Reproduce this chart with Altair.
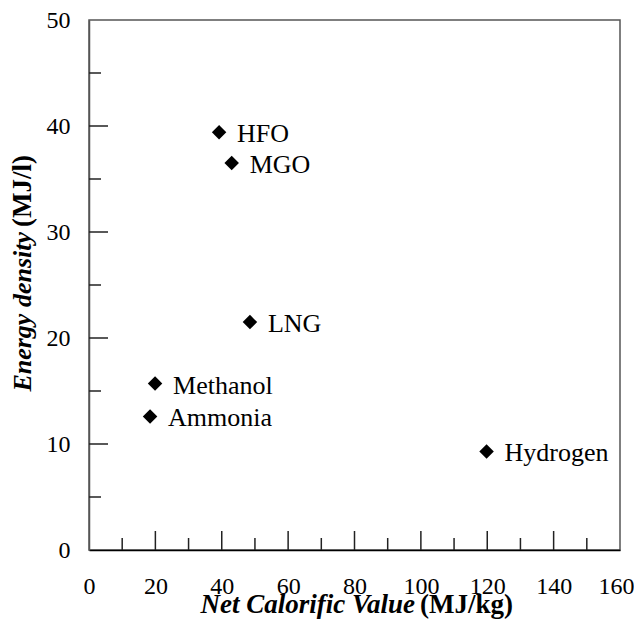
import altair as alt
import pandas as pd

# ---- data ----
fuels = ["HFO", "MGO", "LNG", "Methanol", "Ammonia", "Hydrogen"]
ncv = [39.2, 43.0, 48.5, 19.9, 18.4, 119.8]          # Net Calorific Value (MJ/kg)
energy_density = [39.4, 36.5, 21.5, 15.7, 12.6, 9.3]  # Energy density (MJ/l)

x_labels = [0, 20, 40, 60, 80, 100, 120, 140, 160]
y_labels = [0, 10, 20, 30, 40, 50]
x_major = [20, 40, 60, 80, 100, 120, 140]
x_minor = [10, 30, 50, 70, 90, 110, 130, 150]
y_major = [10, 20, 30, 40]
y_minor = [5, 15, 25, 35, 45]

W, H = 531, 530
FONT = "'Times New Roman', 'Liberation Serif', 'DejaVu Serif', serif"

df = pd.DataFrame({"fuel": fuels, "ncv": ncv, "ed": energy_density})

xscale = alt.Scale(domain=[0, 160], nice=False, zero=False)
yscale = alt.Scale(domain=[0, 50], nice=False, zero=False)

xaxis = alt.Axis(values=x_labels, title=None, labelPadding=24,
                 domainColor="black", labelFont=FONT, labelFontSize=24,
                 labelAlign=alt.condition("datum.value == 160", alt.value("right"), alt.value("center")),
                 labelOffset=alt.condition("datum.value == 160", alt.value(14), alt.value(0)))
yaxis = alt.Axis(values=y_labels, title=None, labelPadding=19,
                 labelFont=FONT, labelFontSize=24, domainColor="#555")

points = alt.Chart(df).mark_point(shape="diamond", filled=True, color="black",
                                  size=210, opacity=1).encode(
    x=alt.X("ncv:Q", scale=xscale, axis=xaxis),
    y=alt.Y("ed:Q", scale=yscale, axis=yaxis),
)

labels = alt.Chart(df).mark_text(align="left", baseline="middle", dx=18, dy=2,
                                 font=FONT, fontSize=26, color="black").encode(
    x=alt.X("ncv:Q", scale=xscale, axis=xaxis),
    y=alt.Y("ed:Q", scale=yscale, axis=yaxis),
    text="fuel:N",
)

tick_style = dict(color="#222", strokeWidth=1.5)

xmaj = alt.Chart(pd.DataFrame({"v": x_major})).mark_rule(**tick_style).encode(
    x=alt.X("v:Q", scale=xscale, axis=xaxis), y=alt.value(H), y2=alt.value(H - 19))
xmin = alt.Chart(pd.DataFrame({"v": x_minor})).mark_rule(**tick_style).encode(
    x=alt.X("v:Q", scale=xscale, axis=xaxis), y=alt.value(H), y2=alt.value(H - 12))
ymaj = alt.Chart(pd.DataFrame({"v": y_major})).mark_rule(**tick_style).encode(
    y=alt.Y("v:Q", scale=yscale, axis=yaxis), x=alt.value(0), x2=alt.value(19))
ymin = alt.Chart(pd.DataFrame({"v": y_minor})).mark_rule(**tick_style).encode(
    y=alt.Y("v:Q", scale=yscale, axis=yaxis), x=alt.value(0), x2=alt.value(12))

# axis titles (mixed bold-italic / bold)
xt1 = alt.Chart(pd.DataFrame({"t": ["Net Calorific Value"]})).mark_text(
    align="right", baseline="alphabetic", font=FONT, fontSize=27,
    fontWeight="bold", fontStyle="italic", color="black").encode(
    text="t:N", x=alt.value(326), y=alt.value(593))
xt2 = alt.Chart(pd.DataFrame({"t": ["(MJ/kg)"]})).mark_text(
    align="left", baseline="alphabetic", font=FONT, fontSize=27,
    fontWeight="bold", color="black").encode(
    text="t:N", x=alt.value(331), y=alt.value(593))
yt1 = alt.Chart(pd.DataFrame({"t": ["Energy density"]})).mark_text(
    align="right", baseline="alphabetic", angle=270, font=FONT, fontSize=26,
    fontWeight="bold", fontStyle="italic", color="black").encode(
    text="t:N", x=alt.value(-58), y=alt.value(212))
yt2 = alt.Chart(pd.DataFrame({"t": ["(MJ/l)"]})).mark_text(
    align="left", baseline="alphabetic", angle=270, font=FONT, fontSize=27,
    fontWeight="bold", color="black").encode(
    text="t:N", x=alt.value(-58), y=alt.value(207))

chart = alt.layer(points, labels, xmaj, xmin, ymaj, ymin, xt1, xt2, yt1, yt2).properties(
    width=W, height=H,
    autosize=alt.AutoSizeParams(type="none"),
    padding={"left": 81, "top": 12, "right": 14, "bottom": 70},
).configure(font=FONT, background="white").configure_view(
    stroke="#555", strokeWidth=1.5).configure_axis(
    grid=False, ticks=False, tickSize=0, labelFont=FONT, labelFontSize=24,
    labelColor="black", domainWidth=1.5, labelFlush=False, labelOverlap=False,
)

chart.save("out.html", embed_options={"renderer": "svg", "actions": False})
